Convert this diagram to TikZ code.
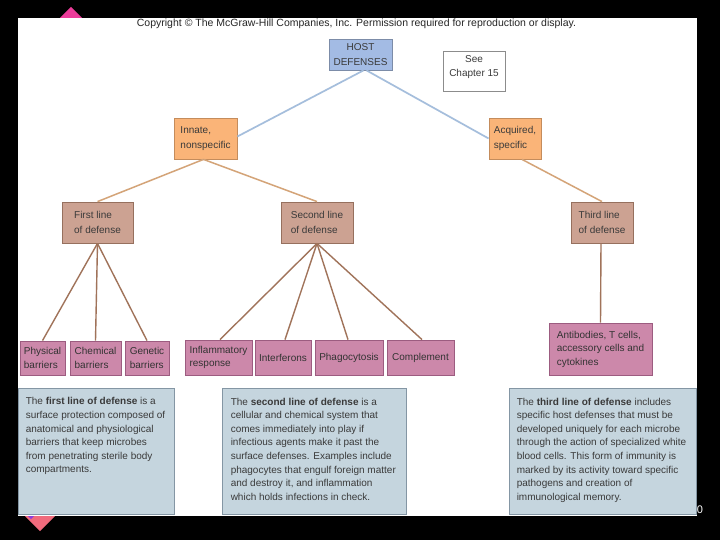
\documentclass[tikz,border=0pt]{standalone}
\usepackage{fontspec}
\setmainfont{Liberation Sans}
\usetikzlibrary{calc}
\definecolor{txt}{HTML}{3A3A3A}
\definecolor{hostfill}{HTML}{A3BBE4}
\definecolor{hostdraw}{HTML}{7C8CA8}
\definecolor{orfill}{HTML}{FAB478}
\definecolor{ordraw}{HTML}{C48C5C}
\definecolor{tanfill}{HTML}{CCA292}
\definecolor{tandraw}{HTML}{96705E}
\definecolor{leaffill}{HTML}{CC88AA}
\definecolor{leafdraw}{HTML}{9C5C80}
\definecolor{descfill}{HTML}{C5D5DE}
\definecolor{descdraw}{HTML}{8496A4}
\definecolor{blueline}{HTML}{A5BEDC}
\definecolor{orline}{HTML}{D4A478}
\definecolor{brline}{HTML}{A0735A}
\definecolor{pinkA}{HTML}{EC3C9A}
\definecolor{pinkB}{HTML}{F06A7C}
\definecolor{purp}{HTML}{8C3CDC}
\tikzset{
  box/.style={draw, line width=0.8pt, text=txt, align=left, inner sep=0pt,
    font=\fontsize{10}{14.5}\selectfont},
  hostbox/.style={box, fill=hostfill, draw=hostdraw, align=center},
  seebox/.style={box, fill=white, draw=black!45, align=center, font=\fontsize{10}{13.5}\selectfont},
  orbox/.style={box, fill=orfill, draw=ordraw},
  tanbox/.style={box, fill=tanfill, draw=tandraw},
  leafbox/.style={box, fill=leaffill, draw=leafdraw, text=black!80, font=\fontsize{10}{13.5}\selectfont},
  descbox/.style={draw=descdraw, fill=descfill, line width=0.9pt, inner sep=0pt},
  desctext/.style={text=txt, align=left, inner sep=0pt, anchor=north west,
    font=\fontsize{10}{13.6}\selectfont},
  bluecon/.style={draw=blueline, line width=1.7pt},
  orcon/.style={draw=orline, line width=1.5pt},
  brcon/.style={draw=brline, line width=1.4pt},
}
\begin{document}
\begin{tikzpicture}[x=1pt,y=-1pt]
\fill[black] (0,0) rectangle (720,540);
\useasboundingbox (0,0) rectangle (720,540);
% decorations
\fill[pinkA] (71,7) -- (82,18) -- (71,29) -- (60,18) -- cycle;
\fill[pinkB] (40,499) -- (56,515) -- (40,531) -- (24,515) -- cycle;
\fill[purp] (31,495) -- (43,507) -- (31,519) -- (19,507) -- cycle;
\fill[white] (18,18) rectangle (697,516);
\node[text=white, font=\fontsize{11}{11}\selectfont, inner sep=0pt] (pg) at (700,510) {0};

\node[text=black!85, inner sep=0pt, font=\fontsize{10.5}{12}\selectfont] (copy) at (356.5,24)
  {Copyright \textcopyright\ The McGraw-Hill Companies, Inc. Permission required for reproduction or display.};

% tree nodes
\node[hostbox, minimum width=63pt, minimum height=31pt] (host) at (360.5,54.5) {HOST\\DEFENSES};
\node[seebox, minimum width=62pt, minimum height=40pt] (see) at (474,71)
  {\raisebox{4pt}[\height][\depth]{\begin{tabular}{@{}c@{}}See\\Chapter 15\end{tabular}}};
\node[orbox, minimum width=63pt, minimum height=41pt] (innate) at (205.5,138.5) {Innate,\\nonspecific};
\node[orbox, minimum width=52pt, minimum height=41pt] (acq) at (515,138.5) {Acquired,\\specific};
\node[tanbox, minimum width=71pt, minimum height=41pt] (first) at (97.5,222.5) {First line\\of defense};
\node[tanbox, minimum width=72pt, minimum height=41pt] (second) at (317,222.5) {Second line\\of defense};
\node[tanbox, minimum width=62pt, minimum height=41pt] (third) at (602,222.5) {Third line\\of defense};

\node[leafbox, minimum width=45pt, minimum height=34pt] (phys) at (42.5,358) {Physical\\barriers};
\node[leafbox, minimum width=51pt, minimum height=34pt] (chem) at (95.5,358) {Chemical\\barriers};
\node[leafbox, minimum width=44pt, minimum height=34pt] (gen) at (147,358) {Genetic\\barriers};
\node[leafbox, minimum width=67pt, minimum height=35pt] (infl) at (218.5,357.5) {Inflammatory\\response};
\node[leafbox, minimum width=56pt, minimum height=35pt] (intf) at (283,357.5) {Interferons};
\node[leafbox, minimum width=68pt, minimum height=35pt] (phag) at (349,357.5) {Phagocytosis};
\node[leafbox, minimum width=67pt, minimum height=35pt] (comp) at (420.5,357.5) {Complement};
\node[leafbox, minimum width=103pt, minimum height=52pt] (anti) at (600.5,349) {Antibodies, T cells,\\accessory cells and\\cytokines};

% description boxes
\node[descbox, minimum width=156pt, minimum height=126pt] (d1) at (96,451) {};
\node[descbox, minimum width=184pt, minimum height=126pt] (d2) at (314,451) {};
\node[descbox, minimum width=187pt, minimum height=126pt] (d3) at (602.5,451) {};

\node[desctext] (d1t) at ($(d1.north west)+(8,10)$) {The \textbf{first line of defense} is a\\
surface protection composed of\\
anatomical and physiological\\
barriers that keep microbes\\
from penetrating sterile body\\
compartments.};
\node[desctext] (d2t) at ($(d2.north west)+(9,10)$) {The \textbf{second line of defense} is a\\
cellular and chemical system that\\
comes immediately into play if\\
infectious agents make it past the\\
surface defenses. Examples include\\
phagocytes that engulf foreign matter\\
and destroy it, and inflammation\\
which holds infections in check.};
\node[desctext] (d3t) at ($(d3.north west)+(8,10)$) {The \textbf{third line of defense} includes\\
specific host defenses that must be\\
developed uniquely for each microbe\\
through the action of specialized white\\
blood cells. This form of immunity is\\
marked by its activity toward specific\\
pathogens and creation of\\
immunological memory.};

% connectors
\draw[bluecon] ([xshift=3pt]host.south) -- ([yshift=2pt]innate.east);
\draw[bluecon] ([xshift=6pt]host.south) -- (acq.west);
\draw[orcon] ([xshift=-2pt]innate.south) -- (first.north);
\draw[orcon] ([xshift=-2pt]innate.south) -- (second.north);
\draw[orcon] ([xshift=7pt]acq.south) -- (third.north);
\draw[brcon] (first.south) -- (phys.north);
\draw[brcon] (first.south) -- (chem.north);
\draw[brcon] (first.south) -- (gen.north);
\draw[brcon] (second.south) -- ([xshift=1.5pt]infl.north);
\draw[brcon] (second.south) -- ([xshift=2pt]intf.north);
\draw[brcon] (second.south) -- ([xshift=-1pt]phag.north);
\draw[brcon] (second.south) -- ([xshift=1.5pt]comp.north);
\draw[brcon] ([xshift=-1pt]third.south) -- (anti.north);
\end{tikzpicture}
\end{document}
